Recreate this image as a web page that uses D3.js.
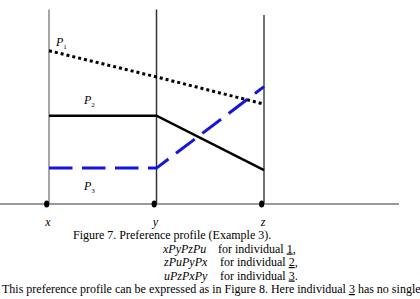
<!DOCTYPE html>
<html>
<head>
<meta charset="utf-8">
<script src="https://cdn.jsdelivr.net/npm/d3@7"></script>
<style>
  body { margin: 0; background: #fff; }
  svg { display: block; font-family: "Liberation Serif", "Times New Roman", serif; }
</style>
</head>
<body>
<svg id="chart" width="420" height="299"></svg>
<script>
// alternatives on the axis
const alternatives = ["x", "y", "z"];

// preference curves (height above the axis, 0..100)
const p1 = [79, 65.5, 51.5];
const p2 = [45.5, 45.5, 17.5];
const p3 = [18.5, 18.5, 60.5];

const profileRows = [
    { order: "xPyPzPu", who: "1" },
    { order: "zPuPyPx", who: "2" },
    { order: "uPzPxPy", who: "3" }
];

const svg = d3.select("#chart");

const x = d3.scalePoint()
    .domain(alternatives)
    .range([49, 264]);

const y = d3.scaleLinear()
    .domain([0, 100])
    .range([204, 10]);

// vertical guides
const guideTop = { x: 9.5, y: 9.5, z: 15 };
const guideColor = { x: "#8a8a8a", y: "#333", z: "#444" };
svg.selectAll("line.guide")
    .data(alternatives)
    .enter().append("line")
    .attr("class", "guide")
    .attr("x1", d => x(d)).attr("x2", d => x(d))
    .attr("y1", d => guideTop[d]).attr("y2", y(0))
    .attr("stroke", d => guideColor[d])
    .attr("stroke-width", 1.5);

// horizontal axis
svg.append("line")
    .attr("x1", 0).attr("x2", 399)
    .attr("y1", y(0)).attr("y2", y(0))
    .attr("stroke", "#999")
    .attr("stroke-width", 2);

svg.selectAll("ellipse")
    .data(alternatives)
    .enter().append("ellipse")
    .attr("cx", d => x(d) - 2.3)
    .attr("cy", y(0))
    .attr("rx", 2.6)
    .attr("ry", 3.6)
    .attr("fill", "#000");

svg.selectAll("text.alt")
    .data(alternatives)
    .enter().append("text")
    .attr("class", "alt")
    .attr("x", d => x(d) - 1)
    .attr("y", 226)
    .attr("text-anchor", "middle")
    .style("font-size", "12px")
    .style("font-style", "italic")
    .text(d => d);

// curves
const line = d3.line()
    .x((d, i) => x(alternatives[i]))
    .y(d => y(d));

svg.append("path")
    .attr("d", line(p2))
    .attr("fill", "none")
    .attr("stroke", "#000")
    .attr("stroke-width", 2.5);

svg.append("path")
    .attr("d", line(p1))
    .attr("fill", "none")
    .attr("stroke", "#000")
    .attr("stroke-width", 3)
    .attr("stroke-dasharray", "3,3");

svg.append("path")
    .attr("d", line(p3))
    .attr("fill", "none")
    .attr("stroke", "#1414dc")
    .attr("stroke-width", 3)
    .attr("stroke-dasharray", "23.5,9.5");

// curve labels
const curveLabels = [
    { n: "1", x: 56, y: 46 },
    { n: "2", x: 84, y: 104 },
    { n: "3", x: 84, y: 190 }
];
const lab = svg.selectAll("text.plab")
    .data(curveLabels)
    .enter().append("text")
    .attr("class", "plab")
    .attr("x", d => d.x)
    .attr("y", d => d.y)
    .style("font-size", "12px");
lab.append("tspan").style("font-style", "italic").text("P");
lab.append("tspan").attr("dy", 3).style("font-size", "7px").text(d => d.n);

// caption
svg.append("text")
    .attr("x", 73).attr("y", 239)
    .style("font-size", "12px")
    .text("Figure 7. Preference profile (Example 3).");

const rows = svg.selectAll("g.row")
    .data(profileRows)
    .enter().append("g")
    .attr("class", "row");

rows.append("text")
    .attr("x", (d, i) => i === 0 ? 163 : 164)
    .attr("y", (d, i) => 252.5 + i * 13.5)
    .style("font-size", "12px")
    .style("font-style", "italic")
    .text(d => d.order);

const forText = rows.append("text")
    .attr("x", (d, i) => i === 0 ? 218 : 220)
    .attr("y", (d, i) => 252.5 + i * 13.5)
    .style("font-size", "12px");
forText.append("tspan").text("for individual ");
forText.append("tspan").style("text-decoration", "underline").text(d => d.who);
forText.append("tspan").text(",")
    .filter((d, i) => i === 2).text(".");

const last = svg.append("text")
    .attr("x", 2).attr("y", 293)
    .style("font-size", "12px");
last.append("tspan").text("This preference profile can be expressed as in Figure 8. Here individual ");
last.append("tspan").style("text-decoration", "underline").text("3");
last.append("tspan").text(" has no single");
</script>
</body>
</html>
